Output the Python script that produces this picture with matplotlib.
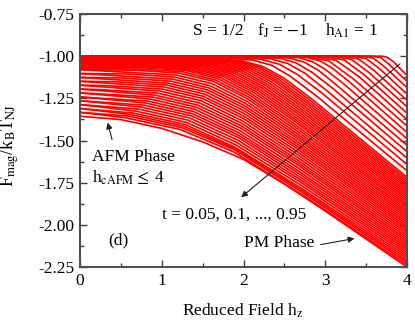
import matplotlib
matplotlib.use("Agg")
import matplotlib.pyplot as plt
from matplotlib.ticker import MultipleLocator, FormatStrFormatter

# Free energy curves F_mag/(k_B T_NJ) vs reduced field h_z.
# Each curve is given by knots (h, F).
low_t_h = [
    [0, 3.69, 3.76, 3.84, 4],
    [0, 3.57, 3.68, 3.78, 4],
    [0, 3.46, 3.59, 3.72, 4],
    [0, 3.34, 3.50, 3.66, 4],
    [0, 3.22, 3.41, 3.60, 4],
    [0, 3.10, 3.32, 3.54, 4],
    [0, 2.97, 3.23, 3.48, 4],
    [0, 2.85, 3.13, 3.42, 4],
    [0, 2.72, 3.04, 3.35, 4],
    [0, 2.59, 2.79, 2.94, 3.09, 3.29, 4],
    [0, 2.46, 2.68, 2.84, 3.00, 3.22, 4],
    [0, 2.32, 2.56, 2.74, 2.92, 3.15, 4],
    [0, 2.19, 2.45, 2.64, 2.83, 3.09, 4],
    [0, 2.06, 2.33, 2.54, 2.75, 3.02, 4],
    [0, 1.92, 2.21, 2.44, 2.66, 2.96, 4],
    [0, 1.78, 2.10, 2.34, 2.57, 2.89, 4],
    [0, 1.64, 1.98, 2.23, 2.49, 2.83, 4],
]
low_t_F = [
    [-1.000, -1.000, -1.007, -1.035, -1.115],
    [-1.000, -1.000, -1.009, -1.048, -1.150],
    [-1.000, -1.001, -1.012, -1.061, -1.186],
    [-1.000, -1.001, -1.014, -1.073, -1.224],
    [-1.000, -1.001, -1.017, -1.086, -1.262],
    [-1.000, -1.001, -1.019, -1.099, -1.300],
    [-1.000, -1.001, -1.022, -1.112, -1.338],
    [-1.000, -1.001, -1.024, -1.124, -1.376],
    [-1.000, -1.001, -1.027, -1.137, -1.414],
    [-1.000, -1.001, -1.009, -1.029, -1.072, -1.150, -1.452],
    [-1.000, -1.001, -1.009, -1.032, -1.078, -1.162, -1.490],
    [-1.001, -1.003, -1.011, -1.035, -1.085, -1.176, -1.528],
    [-1.002, -1.004, -1.013, -1.039, -1.093, -1.190, -1.566],
    [-1.004, -1.006, -1.015, -1.043, -1.101, -1.205, -1.604],
    [-1.006, -1.008, -1.018, -1.048, -1.109, -1.219, -1.642],
    [-1.009, -1.011, -1.022, -1.053, -1.118, -1.235, -1.680],
    [-1.013, -1.015, -1.027, -1.060, -1.128, -1.252, -1.718],
]
high_t_h = [
    [0, 1.53, 1.89, 2.16, 2.43, 2.79, 4],
    [0, 1.42, 1.81, 2.09, 2.38, 2.76, 4],
    [0, 1.31, 1.72, 2.02, 2.32, 2.73, 4],
    [0, 1.20, 1.63, 1.95, 2.27, 2.70, 4],
    [0, 1.09, 1.54, 1.88, 2.22, 2.67, 4],
    [0, 0.98, 1.45, 1.81, 2.17, 2.64, 4],
    [0, 0.87, 1.37, 1.75, 2.12, 2.62, 4],
    [0, 0.76, 1.29, 1.68, 2.07, 2.59, 4],
    [0, 0.67, 1.21, 1.63, 2.04, 2.58, 4],
    [0, 0.59, 1.16, 1.59, 2.02, 2.60, 4],
    [0, 0.51, 1.11, 1.56, 2.01, 2.61, 4],
    [0, 0.44, 1.06, 1.53, 2.00, 2.63, 4],
    [0, 0.35, 1.01, 1.50, 1.99, 2.64, 4],
    [0, 0.27, 0.95, 1.46, 1.97, 2.65, 4],
    [0, 0.18, 0.89, 1.42, 1.96, 2.67, 4],
    [0, 0.09, 0.83, 1.39, 1.94, 2.68, 4],
    [0, 0.78, 1.36, 1.94, 2.70, 4],
    [0, 0.72, 1.32, 1.92, 2.72, 4],
    [0, 0.65, 1.28, 1.90, 2.73, 4],
    [0, 0.59, 1.24, 1.89, 2.75, 4],
    [0, 0.5, 1.0, 1.5, 2.0, 2.5, 3.0, 3.5, 4],
]
high_t_F = [
    [-1.017, -1.019, -1.031, -1.066, -1.138, -1.268, -1.745],
    [-1.022, -1.024, -1.037, -1.074, -1.149, -1.286, -1.770],
    [-1.028, -1.030, -1.044, -1.082, -1.161, -1.305, -1.796],
    [-1.034, -1.037, -1.051, -1.091, -1.174, -1.324, -1.821],
    [-1.041, -1.044, -1.058, -1.100, -1.187, -1.343, -1.846],
    [-1.048, -1.051, -1.066, -1.110, -1.200, -1.363, -1.872],
    [-1.056, -1.059, -1.075, -1.120, -1.214, -1.384, -1.897],
    [-1.065, -1.068, -1.084, -1.132, -1.229, -1.405, -1.922],
    [-1.080, -1.083, -1.100, -1.149, -1.250, -1.433, -1.947],
    [-1.103, -1.106, -1.124, -1.175, -1.279, -1.469, -1.973],
    [-1.126, -1.129, -1.148, -1.200, -1.308, -1.504, -1.998],
    [-1.149, -1.152, -1.171, -1.226, -1.338, -1.540, -2.023],
    [-1.172, -1.175, -1.195, -1.251, -1.367, -1.576, -2.048],
    [-1.195, -1.199, -1.219, -1.277, -1.396, -1.612, -2.074],
    [-1.218, -1.222, -1.242, -1.302, -1.425, -1.647, -2.099],
    [-1.241, -1.245, -1.266, -1.328, -1.454, -1.683, -2.124],
    [-1.264, -1.290, -1.353, -1.483, -1.719, -2.149],
    [-1.287, -1.314, -1.379, -1.512, -1.754, -2.175],
    [-1.310, -1.337, -1.404, -1.541, -1.790, -2.200],
    [-1.333, -1.355, -1.423, -1.555, -1.818, -2.225],
    [-1.356, -1.376, -1.428, -1.508, -1.612, -1.758, -1.918, -2.084, -2.250],
]
# curves lying between the ones above (dense lower fan)
mid_t_h = [
    [0, 1.585, 1.935, 2.195, 2.46, 2.81, 4],
    [0, 1.475, 1.85, 2.125, 2.405, 2.775, 4],
    [0, 1.365, 1.765, 2.055, 2.35, 2.745, 4],
    [0, 1.255, 1.675, 1.985, 2.295, 2.715, 4],
    [0, 1.145, 1.585, 1.915, 2.245, 2.685, 4],
    [0, 1.035, 1.495, 1.845, 2.195, 2.655, 4],
    [0, 0.925, 1.41, 1.78, 2.145, 2.63, 4],
    [0, 0.815, 1.33, 1.715, 2.095, 2.605, 4],
    [0, 0.715, 1.25, 1.655, 2.055, 2.585, 4],
    [0, 1.185, 1.61, 2.03, 2.59, 4],
    [0, 1.135, 1.575, 2.015, 2.605, 4],
    [0, 1.085, 1.545, 2.005, 2.62, 4],
    [0, 1.035, 1.515, 1.995, 2.635, 4],
    [0, 0.98, 1.48, 1.98, 2.645, 4],
    [0, 0.92, 1.44, 1.965, 2.66, 4],
    [0, 0.86, 1.405, 1.95, 2.675, 4],
    [0, 0.81, 1.38, 1.94, 2.69, 4],
    [0, 0.75, 1.34, 1.93, 2.71, 4],
    [0, 0.685, 1.30, 1.91, 2.725, 4],
    [0, 0.62, 1.26, 1.895, 2.74, 4],
    [0, 0.555, 1.22, 1.88, 2.76, 4],
]
mid_t_F = [
    [-1.015, -1.017, -1.029, -1.063, -1.133, -1.260, -1.732],
    [-1.020, -1.022, -1.034, -1.070, -1.144, -1.277, -1.758],
    [-1.025, -1.027, -1.041, -1.078, -1.155, -1.296, -1.783],
    [-1.031, -1.034, -1.048, -1.087, -1.168, -1.315, -1.809],
    [-1.038, -1.041, -1.055, -1.096, -1.181, -1.334, -1.834],
    [-1.045, -1.048, -1.062, -1.105, -1.194, -1.353, -1.859],
    [-1.052, -1.055, -1.071, -1.115, -1.207, -1.374, -1.885],
    [-1.061, -1.064, -1.080, -1.126, -1.222, -1.395, -1.910],
    [-1.073, -1.076, -1.092, -1.141, -1.240, -1.419, -1.935],
    [-1.080, -1.112, -1.162, -1.265, -1.451, -1.960],
    [-1.103, -1.136, -1.188, -1.294, -1.487, -1.986],
    [-1.126, -1.160, -1.213, -1.323, -1.522, -2.011],
    [-1.149, -1.183, -1.239, -1.353, -1.558, -2.036],
    [-1.172, -1.207, -1.264, -1.382, -1.594, -2.061],
    [-1.195, -1.231, -1.290, -1.411, -1.630, -2.087],
    [-1.218, -1.254, -1.315, -1.440, -1.665, -2.112],
    [-1.241, -1.278, -1.342, -1.469, -1.700, -2.137],
    [-1.264, -1.302, -1.366, -1.498, -1.737, -2.162],
    [-1.287, -1.326, -1.392, -1.527, -1.772, -2.188],
    [-1.310, -1.346, -1.414, -1.548, -1.804, -2.213],
    [-1.333, -1.365, -1.434, -1.567, -1.835, -2.238],
]

plt.rcParams["font.family"] = ["Liberation Serif", "DejaVu Serif"]
plt.rcParams["mathtext.fontset"] = "stix"
plt.rcParams["axes.unicode_minus"] = False

fig = plt.figure(figsize=(4.15, 3.29), dpi=100)
ax = fig.add_axes([0.1928, 0.1884, 0.7880, 0.7690])

for hs, fs in zip(low_t_h + high_t_h + mid_t_h, low_t_F + high_t_F + mid_t_F):
    ax.plot(hs, fs, color="#ff0000", lw=1.25, solid_joinstyle="round")

ax.set_xlim(0, 4)
ax.set_ylim(-2.25, -0.75)
ax.xaxis.set_major_locator(MultipleLocator(1))
ax.xaxis.set_minor_locator(MultipleLocator(0.5))
ax.yaxis.set_major_locator(MultipleLocator(0.25))
ax.yaxis.set_minor_locator(MultipleLocator(0.125))
ax.yaxis.set_major_formatter(FormatStrFormatter("%.2f"))
ax.tick_params(which="both", direction="in", top=True, right=True,
               labelsize=12.5, color="#404040")
ax.tick_params(which="major", length=5, width=1.0, pad=4)
ax.tick_params(which="minor", length=3, width=1.0)
for sp in ax.spines.values():
    sp.set_color("#505050")
    sp.set_linewidth(1.5)

ax.set_xlabel(r"Reduced Field h$_{\mathrm{z}}$", fontsize=12.5)
ax.set_ylabel(r"F$_{\mathrm{mag}}$/k$_{\mathrm{B}}$T$_{\mathrm{NJ}}$", fontsize=13)
ax.xaxis.set_label_coords(0.498, -0.135)
ax.yaxis.set_label_coords(-0.18, 0.48)

ax.text(1.38, -0.85, "S = 1/2", fontsize=12.5, va="center")
ax.text(2.17, -0.85, r"f$_{\mathrm{J}}$ = $-$1", fontsize=12.5, va="center")
ax.text(3.0, -0.85, r"h$_{\mathrm{A1}}$ = 1", fontsize=12.5, va="center")

ax.text(0.15, -1.60, "AFM Phase", fontsize=12.5, va="center")
ax.text(0.15, -1.72, r"h$_{\mathrm{cAFM}}$$\leq$ 4", fontsize=12.5, va="center")
ax.text(1.0, -1.94, "t = 0.05, 0.1, ..., 0.95", fontsize=12.5, va="center")
ax.text(0.35, -2.09, "(d)", fontsize=12.5, va="center")
ax.text(2.0, -2.11, "PM Phase", fontsize=12.5, va="center")

arrow = dict(arrowstyle="-|>", color="#202020", lw=0.8, mutation_scale=9)
ax.annotate("", xy=(0.33, -1.378), xytext=(0.40, -1.51), arrowprops=arrow)
ax.annotate("", xy=(1.946, -1.847), xytext=(3.94, -1.035), arrowprops=arrow)
ax.annotate("", xy=(3.39, -2.078), xytext=(2.91, -2.12), arrowprops=arrow)

fig.savefig("out.png", dpi=100)
